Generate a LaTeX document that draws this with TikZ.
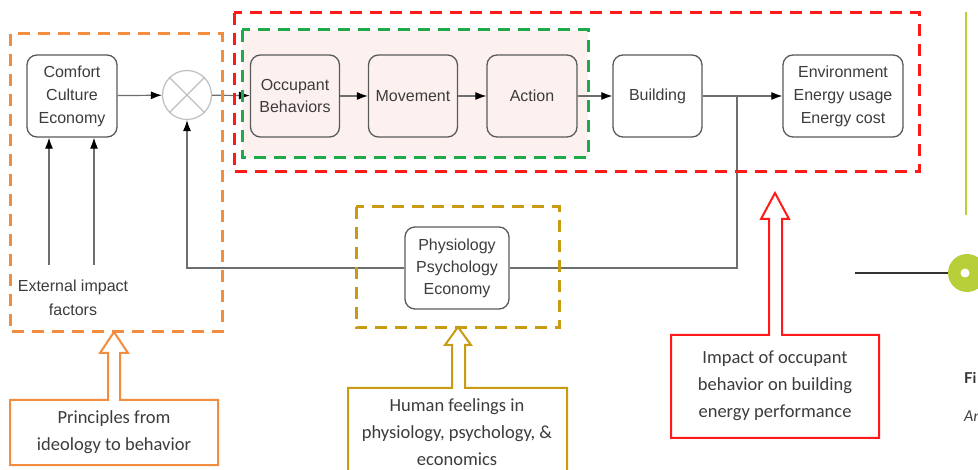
\documentclass[tikz,border=0pt]{standalone}
\usepackage{fontspec}
\setmainfont{Liberation Sans}
\newfontfamily\calib{Carlito}
\newfontfamily\latof{Lato}
\usetikzlibrary{arrows.meta}
\definecolor{orng}{HTML}{F28C3F}
\definecolor{redd}{HTML}{FF1A1A}
\definecolor{grn}{HTML}{1FAA4A}
\definecolor{gold}{HTML}{C99B12}
\definecolor{boxline}{HTML}{5A5A5A}
\definecolor{txt}{HTML}{3C3C3C}
\definecolor{pinkbg}{HTML}{FDF1F0}
\definecolor{lime}{HTML}{B8CF3A}
\definecolor{lineg}{HTML}{6E6E6E}
\tikzset{
  blk/.style={draw=boxline, line width=1.3pt, rounded corners=10pt, minimum height=82pt,
    align=center, text=txt, font=\fontsize{16}{23}\selectfont, inner sep=0pt},
  conn/.style={draw=lineg, line width=1.2pt, -{Latex[length=11pt,width=8pt,color=black]}},
  plain/.style={draw=lineg, line width=1.2pt},
  dbox/.style={line width=3pt, dash pattern=on 12pt off 8pt},
  callout/.style={line width=2pt, fill=white, line join=miter},
  ctext/.style={align=center, text=txt, font=\calib\fontsize{18.5}{27}\selectfont, inner sep=0pt},
}
\begin{document}
\begin{tikzpicture}[x=1pt,y=-1pt]
\useasboundingbox (0,0) rectangle (978,470);
\clip (0,0) rectangle (978,470);
\fill[white] (0,0) rectangle (978,470);
% green region fill
\fill[pinkbg] (242,30) rectangle (588,158);
% main blocks
\node[blk, fill=white, minimum width=90pt] (comfort) at (72,96) {Comfort\\Culture\\Economy};
\node[draw=lightgray, line width=1.2pt, circle, minimum size=49pt, inner sep=0pt] (mix) at (187,95) {};
\draw[lightgray, line width=1.2pt] (mix.north west) -- (mix.south east) (mix.north east) -- (mix.south west);
\node[blk, fill=pinkbg, minimum width=89pt, font=\fontsize{16}{22}\selectfont] (occ) at (295,96) {Occupant\\Behaviors};
\node[blk, fill=pinkbg, minimum width=89pt] (move) at (413,96) {Movement};
\node[blk, fill=pinkbg, minimum width=90pt] (action) at (532,96) {Action};
\node[blk, fill=white, minimum width=89pt] (bldg) at (657.5,96) {Building};
\node[blk, fill=white, minimum width=120pt] (env) at (843,96) {Environment\\Energy usage\\Energy cost};
\node[blk, fill=white, minimum width=104pt, font=\fontsize{16}{22}\selectfont] (phys) at (457,268) {Physiology\\Psychology\\Economy};
\node[align=center, text=txt, font=\fontsize{16}{24}\selectfont, inner sep=0pt] (ext) at (73,298) {External impact\\factors};
% connectors
\draw[conn] (comfort) -- (mix);
\draw[conn] (mix) -- (occ);
\draw[conn] (occ) -- (move);
\draw[conn] (move) -- (action);
\draw[conn] (action) -- (bldg);
\draw[conn] (bldg) -- (env);
\coordinate (j) at (737,96);
\coordinate (jd) at (737,268);
\coordinate (fb) at (187,268);
\draw[plain] (j) -- (jd) -- (phys.east);
\draw[conn] (phys.west) -- (fb) -- (mix.south);
\coordinate (e1) at (49,265);
\coordinate (e2) at (94,265);
\draw[conn] (e1) -- (e1 |- comfort.south);
\draw[conn] (e2) -- (e2 |- comfort.south);
% dashed groups
\draw[dbox, draw=orng] (10,34) rectangle (222,332);
\draw[dbox, draw=redd] (234,13) rectangle (919,172);
\draw[dbox, draw=grn] (242,30) rectangle (588,158);
\draw[dbox, draw=gold] (356,207) rectangle (559,328);
% callouts
\draw[callout, draw=orng] (108,400) -- (10,400) -- (10,465) -- (218,465) -- (218,400) -- (120,400)
  -- (120,353) -- (128,353) -- (114,332) -- (100,353) -- (108,353) -- cycle;
\node[ctext] (c1) at (114,432) {Principles from\\ideology to behavior};
\draw[callout, draw=gold] (452,388) -- (348,388) -- (348,490) -- (567,490) -- (567,388) -- (465,388)
  -- (465,345) -- (471,345) -- (458,327) -- (445,345) -- (452,345) -- cycle;
\node[ctext] (c2) at (457,432) {Human feelings in\\physiology, psychology, \&\\economics};
\draw[callout, draw=redd] (769,335) -- (671,335) -- (671,438) -- (879,438) -- (879,335) -- (782,335)
  -- (782,219) -- (789,219) -- (775,193) -- (761,219) -- (769,219) -- cycle;
\node[ctext] (c3) at (775,386) {Impact of occupant\\behavior on building\\energy performance};
% page fragments on the right
\draw[lime, line width=1.3pt] (966,12) -- (966,215);
\fill[lime] (967,273) circle (19pt);
\fill[white] (965,273) circle (4.5pt);
\coordinate (hl) at (855,273);
\draw[black!80, line width=1.5pt] (hl) -- (948,273);
\node[anchor=west, inner sep=0pt, text=black!80, font=\latof\bfseries\fontsize{15}{18}\selectfont] (fi) at (964,378) {Fi};
\node[anchor=west, inner sep=0pt, text=black!75, font=\latof\itshape\fontsize{15}{18}\selectfont] (ar) at (964,416) {Ar};
\end{tikzpicture}
\end{document}
